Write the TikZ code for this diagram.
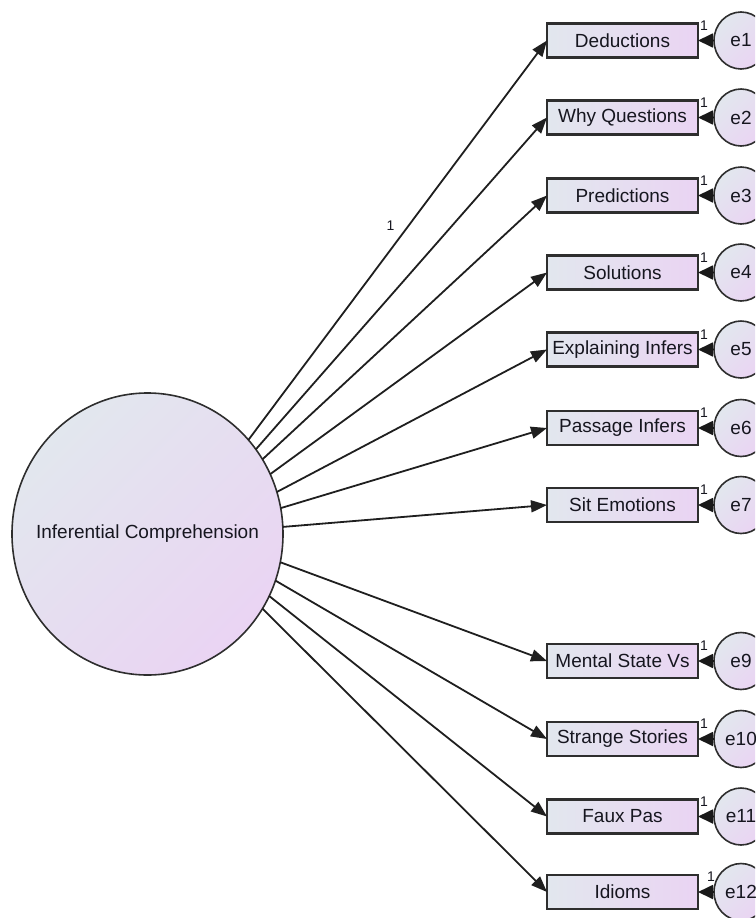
\documentclass[tikz,border=0pt]{standalone}
\usepackage{fontspec}
\setmainfont{Liberation Sans}
\usetikzlibrary{shapes.geometric,arrows.meta}
\definecolor{fillL}{HTML}{E2E7EE}
\definecolor{fillR}{HTML}{EAD4F3}
\definecolor{txt}{HTML}{16161F}
\definecolor{edge}{HTML}{2E2E2E}
\begin{document}
\begin{tikzpicture}[x=1pt,y=-1pt,
  latent/.style={ellipse, draw=edge, line width=1.6pt, minimum width=271pt, minimum height=282pt,
    inner sep=0pt, outer sep=0pt, left color=fillL, right color=fillR, shading angle=45},
  lab/.style={text=txt, font=\fontsize{19}{21}\selectfont, inner sep=0pt},
  obs/.style={rectangle, draw=edge, line width=2.2pt, minimum width=151pt, minimum height=34pt,
    inner sep=0pt, outer sep=0pt, left color=fillL, right color=fillR,
    text=txt, font=\fontsize{19}{21}\selectfont},
  err/.style={ellipse, draw=edge, line width=1.6pt, minimum width=54pt, minimum height=57pt,
    inner sep=0pt, outer sep=0pt, left color=fillL, right color=fillR, shading angle=45,
    text=txt, font=\fontsize{19}{21}\selectfont},
  load/.style={-{Triangle[length=16pt,width=12pt]}, line width=1.8pt, draw=black!88},
  errarrow/.style={-{Triangle[length=15pt,width=14pt]}, line width=1.8pt, draw=black!90},
  one/.style={font=\fontsize{14}{14}\selectfont, text=txt, inner sep=0pt}
]
\useasboundingbox (0,0) rectangle (755,918);
\clip (0,0) rectangle (755,918);
\node[latent] (F) at (147.5,534) {};
\node[lab] (Ft) at (F.center) {Inferential Comprehension};
\foreach \n/\y/\t/\a/\ox in {
  1/40.5/Deductions/43.1/704,
  2/117.5/Why Questions/38.7/704,
  3/195.5/Predictions/33.7/704,
  4/272.5/Solutions/26.5/704,
  5/349.5/Explaining Infers/18.8/704,
  6/428/Passage Infers/11.5/704,
  7/505/Sit Emotions/3.0/704,
  9/661/Mental State Vs/-12.8/704,
  10/739/Strange Stories/-20.6/704,
  11/816.5/Faux Pas/-27.8/704,
  12/892/Idioms/-33.3/711}{
  \node[obs] (v\n) at (622.5,\y) {\t};
  \node[err] (e\n) at (741,\y) {e\n};
  \draw[load] (F.\a) -- (v\n.west);
  \draw[errarrow] (e\n.west) -- (v\n.east);
  \node[one] (w\n) at (\ox,\y-15) {1};
}
\node[one] (fix) at (390.5,226) {1};
\end{tikzpicture}
\end{document}
